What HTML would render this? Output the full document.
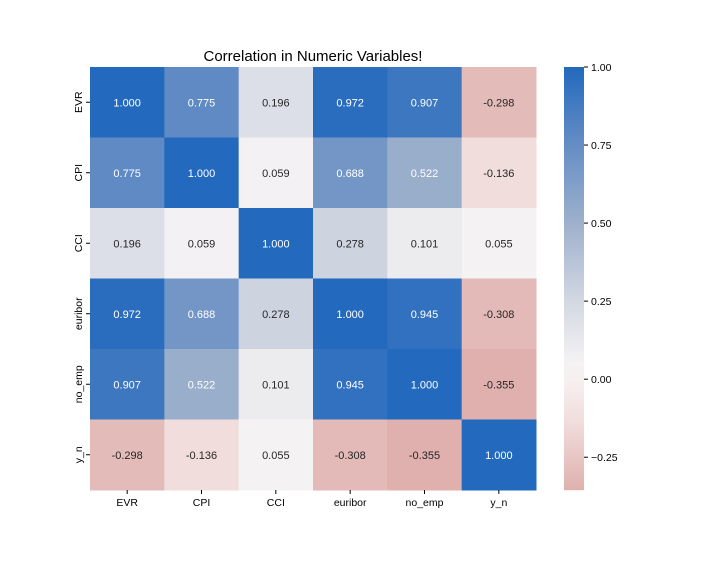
<!DOCTYPE html>
<html><head><meta charset="utf-8"><style>
body{margin:0;background:#fff;font-family:"Liberation Sans","DejaVu Sans",sans-serif}
</style></head><body>
<svg id="chart" width="720" height="560" xmlns="http://www.w3.org/2000/svg">
<text x="313" y="61" text-anchor="middle" font-size="15" fill="#000">Correlation in Numeric Variables!</text>
<g id="cells"></g><g id="xt"></g><g id="yt"></g><g id="cbar"></g>
</svg>
<script>
const labels=["EVR","CPI","CCI","euribor","no_emp","y_n"];
const matrix=[
[1.000,0.775,0.196,0.972,0.907,-0.298],
[0.775,1.000,0.059,0.688,0.522,-0.136],
[0.196,0.059,1.000,0.278,0.101,0.055],
[0.972,0.688,0.278,1.000,0.945,-0.308],
[0.907,0.522,0.101,0.945,1.000,-0.355],
[-0.298,-0.136,0.055,-0.308,-0.355,1.000]];
const cbTicks=[1.00,0.75,0.50,0.25,0.00,-0.25];
const vmin=-0.355,vmax=1.0;
const NS="http://www.w3.org/2000/svg";
const X0=90,X1=536,Y0=67,Y1=490;
const cw=(X1-X0)/labels.length,ch=(Y1-Y0)/labels.length;
const stops=[[-0.355,[223,176,173]],[-0.136,[240,221,220]],[0,[247,240,240]],[0.055,[244,242,243]],[0.25,[211,216,227]],[0.5,[158,177,204]],[0.775,[95,138,196]],[1,[35,105,189]]];
function color(v){
 for(let i=0;i<stops.length-1;i++){const a=stops[i],b=stops[i+1];
  if(v<=b[0]||i==stops.length-2){let t=Math.max(0,Math.min(1,(v-a[0])/(b[0]-a[0])));
   return "rgb("+a[1].map((c,k)=>Math.round(c+(b[1][k]-c)*t)).join(",")+")";}}
}
function el(tag,attrs,parent){const e=document.createElementNS(NS,tag);for(const k in attrs)e.setAttribute(k,attrs[k]);parent.appendChild(e);return e;}
const cells=document.getElementById('cells');
matrix.forEach((row,r)=>row.forEach((v,c)=>{
 const rect=el('rect',{x:X0+c*cw,y:Y0+r*ch,width:cw+0.5,height:ch+0.5,fill:color(v)},cells);
 
 
 const t=el('text',{x:X0+(c+0.5)*cw,y:Y0+(r+0.5)*ch+4,'text-anchor':'middle','font-size':'11',fill:v>=0.5?'#fff':'#262626'},cells);
 t.textContent=v.toFixed(3);
 
 
}));
const xt=document.getElementById('xt'),yt=document.getElementById('yt');
labels.forEach((l,i)=>{
 const x=X0+(i+0.5)*cw;
 el('line',{x1:x,x2:x,y1:Y1,y2:Y1+4,stroke:'#000'},xt);
 const t=el('text',{x:x,y:Y1+16,'text-anchor':'middle','font-size':'10.5',fill:'#000'},xt);
 t.textContent=l;
 
 
 const y=Y0+(i+0.5)*ch;
 el('line',{x1:X0-4,x2:X0,y1:y,y2:y,stroke:'#000'},yt);
 const u=el('text',{x:0,y:0,'text-anchor':'middle','font-size':'10.5',fill:'#000',transform:`translate(${X0-8},${y}) rotate(-90)`},yt);
 u.textContent=l;
 
 
});
const cb=document.getElementById('cbar');
const CX=564,CW=20;
const cy=v=>Y0+(vmax-v)/(vmax-vmin)*(Y1-Y0);
for(let p=Y0;p<Y1;p++){const v=vmax-(p-Y0)/(Y1-Y0)*(vmax-vmin);
 el('rect',{x:CX,y:p,width:CW,height:1.2,fill:color(v)},cb);}


cbTicks.forEach(v=>{const y=cy(v);
 el('line',{x1:CX+CW,x2:CX+CW+4,y1:y,y2:y,stroke:'#000'},cb);
 const t=el('text',{x:CX+CW+7,y:y+4,'font-size':'10.5',fill:'#000'},cb);
 t.textContent=(v<0?'\u2212':'')+Math.abs(v).toFixed(2);
 
 
});
</script>
</body></html>
